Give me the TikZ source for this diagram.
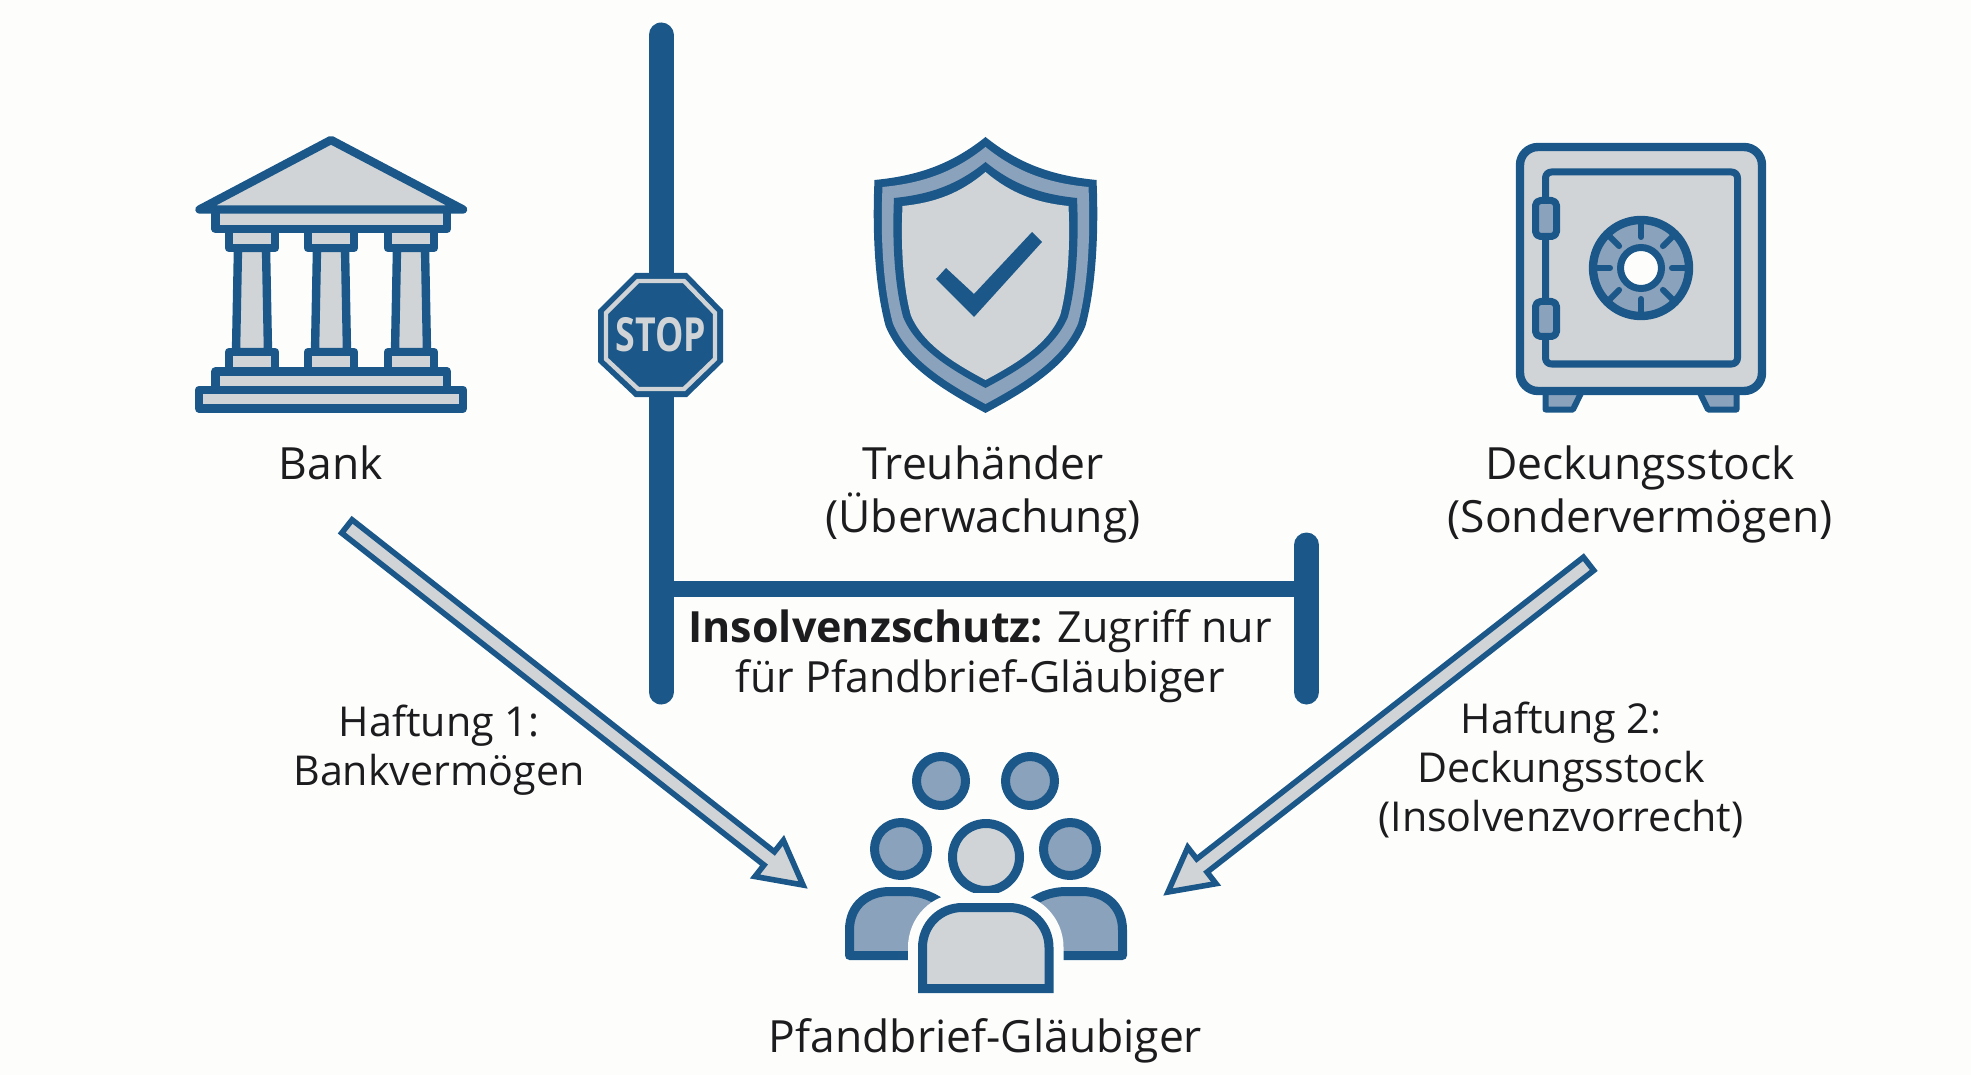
\documentclass[tikz,border=0pt]{standalone}
\usepackage{fontspec}
\setmainfont{Open Sans}
\usetikzlibrary{calc}
\definecolor{bl}{HTML}{1B5788}
\definecolor{lg}{HTML}{D1D4D7}
\definecolor{mg}{HTML}{8BA2BC}
\definecolor{bgc}{HTML}{FDFEFC}
\definecolor{ink}{HTML}{1C1C1E}
\tikzset{
  part/.style={draw=bl,fill=lg,line width=4.2pt,line join=round},
  partm/.style={draw=bl,fill=mg,line width=4.2pt,line join=round},
  barbar/.style={draw=bl,line width=12.5pt,line cap=round},
  barlink/.style={draw=bl,line width=8pt},
  lab/.style={text=ink,align=center,inner sep=0pt},
  labbig/.style={lab,font=\fontsize{22.2}{26.5}\selectfont},
  labmid/.style={lab,font=\fontsize{21.5}{25}\selectfont},
  labsmall/.style={lab,font=\fontsize{20.6}{24.6}\selectfont},
  blockar/.style={draw=bl,fill=lg,line width=2.8pt,line join=miter,miter limit=12}
}
\newcommand\shieldp[4]{(985.5,#2)
 .. controls ({985.5+.3*#1},{#2+.62*(#3-#2)}) and ({985.5+.6*#1},{#3-.1*(#3-#2)}) .. ({985.5+#1},#3)
 .. controls ({985.5+1.02*#1},{#3+.21*(#4-#3)}) and ({985.5+1.0*#1},{#3+.45*(#4-#3)}) .. ({985.5+.9*#1},{#3+.627*(#4-#3)})
 .. controls ({985.5+.75*#1},{#3+.8*(#4-#3)}) and ({985.5+.35*#1},{#3+.91*(#4-#3)}) .. (985.5,#4)
 .. controls ({985.5-.35*#1},{#3+.91*(#4-#3)}) and ({985.5-.75*#1},{#3+.8*(#4-#3)}) .. ({985.5-.9*#1},{#3+.627*(#4-#3)})
 .. controls ({985.5-1.0*#1},{#3+.45*(#4-#3)}) and ({985.5-1.02*#1},{#3+.21*(#4-#3)}) .. ({985.5-#1},#3)
 .. controls ({985.5-.6*#1},{#3-.1*(#3-#2)}) and ({985.5-.3*#1},{#2+.62*(#3-#2)}) .. cycle}
\newcommand\blockarrow[2]{%
  \coordinate (H) at ($(#2)!21.5pt!(#1)$);
  \draw[blockar] ($(#1)!4.2pt!90:(#2)$) -- ($(H)!4.2pt!90:(#2)$) -- ($(H)!11.5pt!90:(#2)$) -- (#2)
    -- ($(H)!11.5pt!-90:(#2)$) -- ($(H)!4.2pt!-90:(#2)$) -- ($(#1)!4.2pt!-90:(#2)$) -- cycle;}
\newcommand\bodyp{(922.5,988.5) -- (922.5,947.5) .. controls (922.5,925) and (940,907.5) .. (962.5,907.5) -- (1009,907.5) .. controls (1031,907.5) and (1049,925) .. (1049,947.5) -- (1049,988.5) -- cycle}
\begin{document}
\begin{tikzpicture}[x=0.5pt,y=-0.5pt]
\fill[bgc] (0,0) rectangle (1971,1075);
\useasboundingbox (0,0) rectangle (1971,1075);
% --- bank
\foreach \c in {252,331,411}{
  \draw[part] ({\c-14},248) -- ({\c+14},248) -- ({\c+16},352) -- ({\c-16},352) -- cycle;
  \draw[part] ({\c-23},229) rectangle ({\c+23},248);
  \draw[part] ({\c-23},352) rectangle ({\c+23},371);
}
\draw[part] (215.5,209) rectangle (447,229);
\draw[part] (215.5,371.5) rectangle (447,390);
\draw[part] (199,390) rectangle (463,408.5);
\draw[part] (331,140) -- (463,209.5) -- (199.5,209.5) -- cycle;
% --- barrier
\coordinate (vtop) at (661,35);
\coordinate (vbot) at (661,692);
\coordinate (rtop) at (1306.5,545);
\coordinate (rbot) at (1306.5,692);
\coordinate (hl) at (661,589);
\coordinate (hr) at (1306.5,589);
\draw[barlink] (hl) -- (hr);
\draw[barbar] (vtop) -- (vbot);
\draw[barbar] (rtop) -- (rbot);
% --- stop
\fill[bl] (635,273) -- (687,273) -- (723,310) -- (723,362) -- (687,397) -- (635,397) -- (598,362) -- (598,310) -- cycle;
\draw[lg,line width=2.2pt,line join=miter] (638,281) -- (684,281) -- (715,313) -- (715,359) -- (684,389) -- (638,389) -- (606,359) -- (606,313) -- cycle;
\node[inner sep=0pt,text=lg,xscale=.76] (stoptext) at (661,335) {\fontsize{23.5}{26}\selectfont\bfseries STOP};
% --- shield
\fill[bl] \shieldp{111}{137}{180}{413};
\fill[mg] \shieldp{103}{147}{187}{404};
\fill[bl] \shieldp{91.5}{162}{198}{388};
\fill[lg] \shieldp{83}{172}{206}{380};
\fill[bl] (936,279) -- (946,268) -- (974,294) -- (1032,232) -- (1042,242) -- (974,317) -- cycle;
% --- safe
\draw[partm,line width=3pt] (1545.5,393) -- (1545.5,409.5) -- (1573,409.5) -- (1581,393);
\draw[partm,line width=3pt] (1736.5,393) -- (1736.5,409.5) -- (1708,409.5) -- (1700,393);
\draw[part,rounded corners=9pt] (1520,147) rectangle (1762,391);
\draw[part,line width=3.5pt,rounded corners=3pt] (1545.5,172) rectangle (1737.5,364);
\draw[partm,line width=3.5pt,rounded corners=2.5pt] (1535.5,200.5) rectangle (1556.5,236.5);
\draw[partm,line width=3.5pt,rounded corners=2.5pt] (1535.5,301.5) rectangle (1556.5,336.5);
\draw[partm] (1641,268) circle (48);
\foreach \a in {0,45,...,315}
  \draw[bl,line width=3pt,line cap=round] (1641,268) ++(\a:31) -- ++(\a:14);
\draw[draw=bl,fill=bgc,line width=3.5pt] (1641,268) circle (20.5);
% --- people
\draw[partm,line width=4.5pt] (941,781) circle (24.5);
\draw[partm,line width=4.5pt] (1030,781) circle (24.5);
\draw[partm,line width=4.5pt] (901,849) circle (26.5);
\draw[partm,line width=4.5pt] (1070,849) circle (26.5);
\draw[part,line width=4.5pt] (986,857) circle (33.5);
\draw[partm,line width=4.5pt] (849.5,955.5) -- (849.5,930) .. controls (849.5,905) and (868,891.5) .. (890,891.5) -- (905,891.5) .. controls (922,891.5) and (935,897) .. (948,908) -- (948,955.5) -- cycle;
\draw[partm,line width=4.5pt] (1122.5,955.5) -- (1122.5,930) .. controls (1122.5,905) and (1104,891.5) .. (1082,891.5) -- (1067,891.5) .. controls (1050,891.5) and (1037,897) .. (1024,908) -- (1024,955.5) -- cycle;
\draw[draw=bgc,fill=bgc,line width=14.5pt,line join=miter] \bodyp;
\draw[part,line width=4.5pt,line join=miter] \bodyp;
% --- arrows
\coordinate (a1s) at (346.9,526.4);
\coordinate (a1e) at (803,885);
\coordinate (a2s) at (1588.6,563.8);
\coordinate (a2e) at (1168,892);
\blockarrow{a1s}{a1e}
\blockarrow{a2s}{a2e}
% --- labels
\node[labbig] (bank) at (331,463) {Bank};
\node[labbig] (treu) at (983,494) {Treuhänder\\(Überwachung)};
\node[labbig] (deck) at (1640,494) {Deckungsstock\\(Sondervermögen)};
\node[labmid] (ins) at (980,656) {\textbf{Insolvenzschutz:} Zugriff nur\\für Pfandbrief-Gläubiger};
\node[labsmall] (h1) at (439,750) {Haftung 1:\\Bankvermögen};
\node[labsmall] (h2) at (1561,770) {Haftung 2:\\Deckungsstock\\(Insolvenzvorrecht)};
\node[labbig] (pg) at (985.5,1041) {Pfandbrief-Gläubiger};
\end{tikzpicture}
\end{document}
